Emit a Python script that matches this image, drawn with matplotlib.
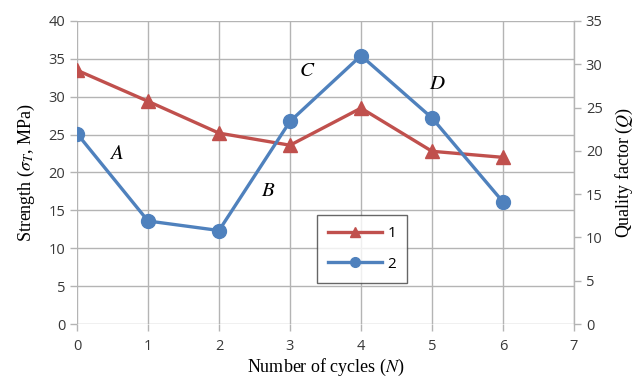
import matplotlib
matplotlib.use("Agg")
import matplotlib.pyplot as plt

cycles = [0, 1, 2, 3, 4, 5, 6]
strength = [33.5, 29.4, 25.2, 23.6, 28.5, 22.8, 22.0]
quality = [22.0, 11.9, 10.8, 23.4, 31.0, 23.8, 14.1]
series_labels = ["1", "2"]
annot_text = ["A", "B", "C", "D"]
annot_x = [0.56, 2.69, 3.24, 5.08]
annot_y = [22.6, 17.7, 33.5, 31.8]

plt.rcParams['mathtext.fontset'] = 'stix'
tick_font = "Open Sans"
serif = "Liberation Serif"
red = "#C0504D"
blue = "#4F81BD"
grid_c = "#B4B4B4"

fig = plt.figure(figsize=(6.35, 3.78), dpi=100)
ax = fig.add_axes([77/635, 1-324/378, (574-77)/635, (324-21)/378])
ax2 = ax.twinx()

ax.set_xlim(0, 7)
ax.set_ylim(0, 40)
ax2.set_ylim(0, 35)
ax.set_xticks(range(0, 8))
ax.set_yticks(range(0, 41, 5))
ax2.set_yticks(range(0, 36, 5))

ax.grid(True, color=grid_c, lw=1)
ax.set_axisbelow(True)
for sp in ["top", "left", "bottom"]:
    ax.spines[sp].set_visible(False)
    ax2.spines[sp].set_visible(False)
ax.spines["right"].set_visible(False)
ax2.spines["right"].set_color(grid_c)
ax2.spines["right"].set_linewidth(1)

for a in (ax, ax2):
    a.tick_params(colors=grid_c, labelcolor="#383838", labelsize=10.5, length=5, width=1)
    for lab in a.get_xticklabels() + a.get_yticklabels():
        lab.set_fontfamily(tick_font)
ax.tick_params(axis="x", pad=6)

l1, = ax.plot(cycles, strength, color=red, lw=2.4, marker="^", ms=10, label=series_labels[0], zorder=3)
l2, = ax2.plot(cycles, quality, color=blue, lw=2.4, marker="o", ms=10, label=series_labels[1], zorder=3)

ax.set_xlabel("Number of cycles ($N$)", fontfamily=serif, fontsize=13, labelpad=2)
ax.set_ylabel("Strength ($\\sigma_T$, MPa)", fontfamily=serif, fontsize=13, labelpad=8)
ax2.set_ylabel("Quality factor ($Q$)", fontfamily=serif, fontsize=13, rotation=90, labelpad=8)

for txt, xx, yy in zip(annot_text, annot_x, annot_y):
    ax.text(xx, yy, f"${txt}$", fontsize=15, ha="center", va="center", zorder=4)

leg = ax2.legend(handles=[l1, l2], loc="upper left", bbox_to_anchor=((317-77)/497, (324-215)/303),
                 borderaxespad=0, frameon=True, fancybox=False, edgecolor="#404040", handlelength=3.5,
                 borderpad=0.75, labelspacing=1.0, handletextpad=0.35,
                 prop={"family": tick_font, "size": 11})
leg.get_frame().set_linewidth(1)
for h in leg.legend_handles:
    h.set_markersize(7)

fig.savefig("out.png", dpi=100)
